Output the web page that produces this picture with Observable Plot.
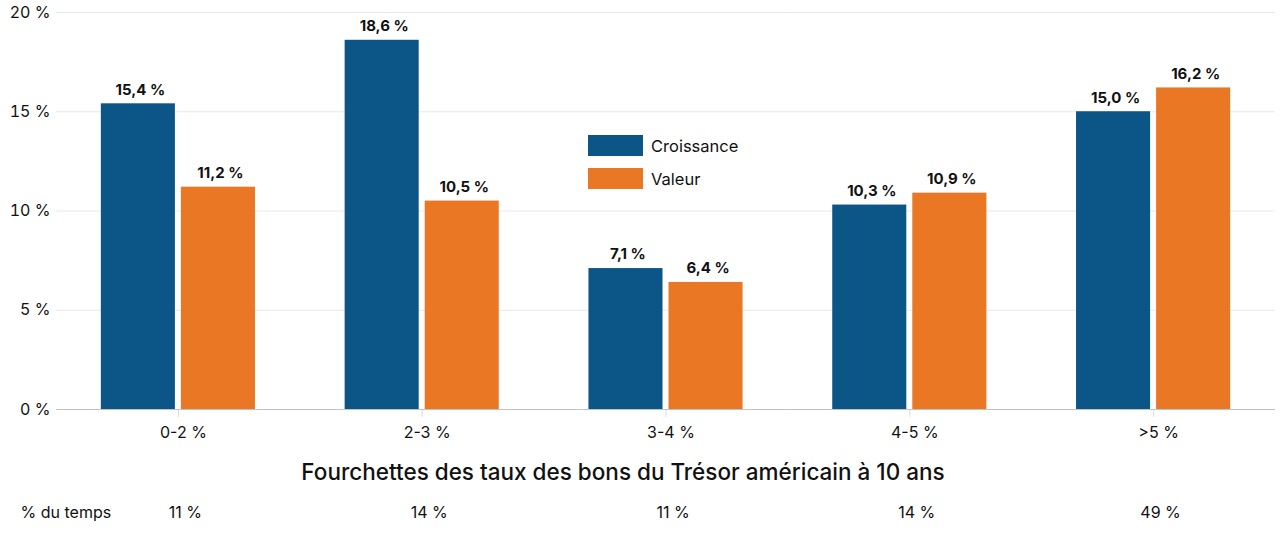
<!DOCTYPE html>
<html>
<head>
<meta charset="utf-8">
<script src="https://cdn.jsdelivr.net/npm/d3@7"></script>
<script src="https://cdn.jsdelivr.net/npm/@observablehq/plot@0.6"></script>
<style>
  html, body { margin: 0; padding: 0; background: #fff; }
  #wrap { position: relative; width: 1280px; height: 545px; font-family: Inter, Lato, sans-serif; }
  .legend { position: absolute; left: 588px; top: 135px; font-size: 16.5px; color: #111; }
  .legend .item { display: flex; align-items: center; height: 21px; margin-bottom: 12px; }
  .legend .sw { width: 55px; height: 21px; margin-right: 8px; }
</style>
</head>
<body>
<div id="wrap"></div>
<script>
const groups = ["0-2 %", "2-3 %", "3-4 %", "4-5 %", ">5 %"];
const series = ["Croissance", "Valeur"];
const croissance = [15.4, 18.6, 7.1, 10.3, 15.0];
const valeur = [11.2, 10.5, 6.4, 10.9, 16.2];
const timeShare = [11, 14, 11, 14, 49];
const yTicks = [0, 5, 10, 15, 20];
const colors = ["#0b5687", "#ea7724"];
const xTitle = "Fourchettes des taux des bons du Trésor américain à 10 ans";
const rowLabel = "% du temps";

const data = groups.flatMap((g, i) => [
  {group: g, series: series[0], value: croissance[i]},
  {group: g, series: series[1], value: valeur[i]}
]);
const fmt = v => v.toFixed(1).replace(".", ",") + " %";

const chart = Plot.plot({
  width: 1280,
  height: 545,
  marginLeft: 56,
  marginRight: 5,
  marginTop: 12,
  marginBottom: 136,
  style: {fontFamily: "Inter, Lato, sans-serif", fontSize: "16px", color: "#111", background: "#fff"},
  fx: {domain: groups, padding: 0, label: null, round: false},
  x: {domain: series, paddingInner: 0.075, paddingOuter: 0.56, axis: null, round: false},
  y: {domain: [0, 20], label: null},
  color: {domain: series, range: colors},
  marks: [
    Plot.gridY(yTicks, {stroke: "#e8e8e8", strokeOpacity: 1}),
    Plot.axisY(yTicks, {tickSize: 0, tickPadding: 6, tickFormat: d => d + " %", fontSize: 16, label: null}),
    Plot.axisFx({anchor: "bottom", tickSize: 8, stroke: "#dcdcdc", fill: "none", label: null}),
    Plot.axisFx({anchor: "bottom", tickSize: 0, tickPadding: 17, fill: "#111", fontSize: 16, dx: 5, label: null}),
    Plot.barY(data, {fx: "group", x: "series", y: "value", fill: "series"}),
    Plot.ruleY([0], {stroke: "#c2c2c2"}),
    Plot.text(data, {fx: "group", x: "series", y: "value", text: d => fmt(d.value), dx: 2, dy: -14, fontWeight: "bold", fontSize: 15, fill: "#111"}),
    Plot.text(groups, {fx: d => d, text: (d, i) => timeShare[i] + " %", frameAnchor: "bottom", dx: 7, dy: 108, fontSize: 16, fill: "#111"}),
    Plot.text([rowLabel], {fx: () => groups[0], text: d => d, frameAnchor: "bottom-left", textAnchor: "start", dx: -36, dy: 108, fontSize: 16, fill: "#111"}),
    Plot.text([xTitle], {fx: () => groups[2], text: d => d, frameAnchor: "bottom", dx: -43, dy: 70, fontSize: 22.5, fontWeight: 500, fill: "#111"})
  ]
});

const wrap = document.getElementById("wrap");
wrap.appendChild(chart);

const legend = document.createElement("div");
legend.className = "legend";
series.forEach((s, i) => {
  const item = document.createElement("div");
  item.className = "item";
  const sw = document.createElement("div");
  sw.className = "sw";
  sw.style.background = colors[i];
  const t = document.createElement("span");
  t.textContent = s;
  item.appendChild(sw);
  item.appendChild(t);
  legend.appendChild(item);
});
wrap.appendChild(legend);
</script>
</body>
</html>
